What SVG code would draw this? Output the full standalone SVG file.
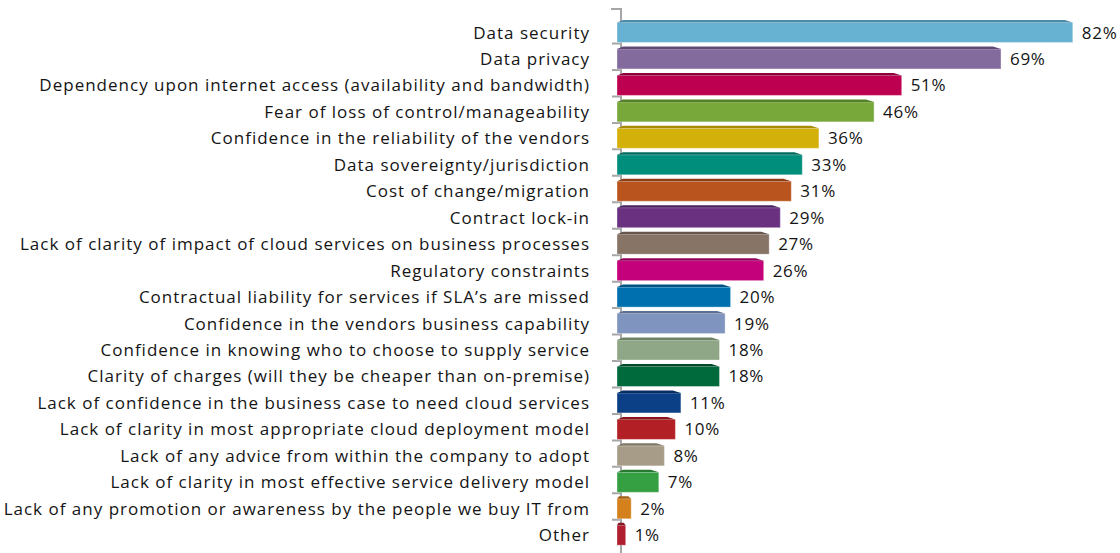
<svg xmlns="http://www.w3.org/2000/svg" width="1120" height="553" viewBox="0 0 1120 553">
<style>
.lbl{font-family:"Open Sans","Liberation Sans",sans-serif;font-size:17px;fill:#141414;text-anchor:end;letter-spacing:1px}
.val{font-family:"Open Sans","Liberation Sans",sans-serif;font-size:17px;fill:#141414;letter-spacing:0.7px}
.body{stroke:#ffffff;stroke-opacity:0.35;stroke-width:1}
.axis{stroke:#a6a6a6;stroke-width:2;fill:none}
</style>
<rect width="1120" height="553" fill="#ffffff"/>
<g id="axis">
<path class="axis" d="M611,9H621V553"/>
<path class="axis" d="M612,43.5H621M612,69.96H621M612,96.42H621M612,122.88H621M612,149.34H621M612,175.8H621M612,202.26H621M612,228.72H621M612,255.18H621M612,281.64H621M612,308.1H621M612,334.56H621M612,361.02H621M612,387.48H621M612,413.94H621M612,440.4H621M612,466.86H621M612,493.32H621M612,519.78H621"/>
</g>
<g id="bar-1" transform="translate(0,20)">
<rect class="body" x="617" y="2.5" width="455.8" height="20" fill="#67B1D3"/>
<polygon points="623,0 1064.8,0 1072.8,2.5 617,2.5" fill="#4B8AA8"/>
<text class="lbl" x="590" y="18.5">Data security</text>
<text class="val" x="1081.8" y="18.5">82%</text>
</g>
<g id="bar-2" transform="translate(0,46.46)">
<rect class="body" x="617" y="2.5" width="384" height="20" fill="#836B9E"/>
<polygon points="623,0 993,0 1001,2.5 617,2.5" fill="#5E4A75"/>
<text class="lbl" x="590" y="18.5">Data privacy</text>
<text class="val" x="1010" y="18.5">69%</text>
</g>
<g id="bar-3" transform="translate(0,72.92)">
<rect class="body" x="617" y="2.5" width="284.7" height="20" fill="#BE0050"/>
<polygon points="623,0 893.7,0 901.7,2.5 617,2.5" fill="#8E003B"/>
<text class="lbl" x="590" y="18.5">Dependency upon internet access (availability and bandwidth)</text>
<text class="val" x="910.7" y="18.5">51%</text>
</g>
<g id="bar-4" transform="translate(0,99.38)">
<rect class="body" x="617" y="2.5" width="257.1" height="20" fill="#78A83A"/>
<polygon points="623,0 866.1,0 874.1,2.5 617,2.5" fill="#55802A"/>
<text class="lbl" x="590" y="18.5">Fear of loss of control/manageability</text>
<text class="val" x="883.1" y="18.5">46%</text>
</g>
<g id="bar-5" transform="translate(0,125.84)">
<rect class="body" x="617" y="2.5" width="201.9" height="20" fill="#D4B10A"/>
<polygon points="623,0 810.9,0 818.9,2.5 617,2.5" fill="#A88A05"/>
<text class="lbl" x="590" y="18.5">Confidence in the reliability of the vendors</text>
<text class="val" x="827.9" y="18.5">36%</text>
</g>
<g id="bar-6" transform="translate(0,152.3)">
<rect class="body" x="617" y="2.5" width="185.3" height="20" fill="#008E7C"/>
<polygon points="623,0 794.3,0 802.3,2.5 617,2.5" fill="#006A5C"/>
<text class="lbl" x="590" y="18.5">Data sovereignty/jurisdiction</text>
<text class="val" x="811.3" y="18.5">33%</text>
</g>
<g id="bar-7" transform="translate(0,178.76)">
<rect class="body" x="617" y="2.5" width="174.3" height="20" fill="#B9541E"/>
<polygon points="623,0 783.3,0 791.3,2.5 617,2.5" fill="#8C3D14"/>
<text class="lbl" x="590" y="18.5">Cost of change/migration</text>
<text class="val" x="800.3" y="18.5">31%</text>
</g>
<g id="bar-8" transform="translate(0,205.22)">
<rect class="body" x="617" y="2.5" width="163.3" height="20" fill="#6A3180"/>
<polygon points="623,0 772.3,0 780.3,2.5 617,2.5" fill="#4A2060"/>
<text class="lbl" x="590" y="18.5">Contract lock-in</text>
<text class="val" x="789.3" y="18.5">29%</text>
</g>
<g id="bar-9" transform="translate(0,231.68)">
<rect class="body" x="617" y="2.5" width="152.2" height="20" fill="#887467"/>
<polygon points="623,0 761.2,0 769.2,2.5 617,2.5" fill="#64564C"/>
<text class="lbl" x="590" y="18.5">Lack of clarity of impact of cloud services on business processes</text>
<text class="val" x="778.2" y="18.5">27%</text>
</g>
<g id="bar-10" transform="translate(0,258.14)">
<rect class="body" x="617" y="2.5" width="146.7" height="20" fill="#C4007A"/>
<polygon points="623,0 755.7,0 763.7,2.5 617,2.5" fill="#94005C"/>
<text class="lbl" x="590" y="18.5">Regulatory constraints</text>
<text class="val" x="772.7" y="18.5">26%</text>
</g>
<g id="bar-11" transform="translate(0,284.6)">
<rect class="body" x="617" y="2.5" width="113.6" height="20" fill="#0071AE"/>
<polygon points="623,0 722.6,0 730.6,2.5 617,2.5" fill="#005284"/>
<text class="lbl" x="590" y="18.5">Contractual liability for services if SLA’s are missed</text>
<text class="val" x="739.6" y="18.5">20%</text>
</g>
<g id="bar-12" transform="translate(0,311.06)">
<rect class="body" x="617" y="2.5" width="108.1" height="20" fill="#7F94BE"/>
<polygon points="623,0 717.1,0 725.1,2.5 617,2.5" fill="#5D6F94"/>
<text class="lbl" x="590" y="18.5">Confidence in the vendors business capability</text>
<text class="val" x="734.1" y="18.5">19%</text>
</g>
<g id="bar-13" transform="translate(0,337.52)">
<rect class="body" x="617" y="2.5" width="102.5" height="20" fill="#8FA786"/>
<polygon points="623,0 711.5,0 719.5,2.5 617,2.5" fill="#6C8264"/>
<text class="lbl" x="590" y="18.5">Confidence in knowing who to choose to supply service</text>
<text class="val" x="728.5" y="18.5">18%</text>
</g>
<g id="bar-14" transform="translate(0,363.98)">
<rect class="body" x="617" y="2.5" width="102.5" height="20" fill="#006A3C"/>
<polygon points="623,0 711.5,0 719.5,2.5 617,2.5" fill="#004A2A"/>
<text class="lbl" x="590" y="18.5">Clarity of charges (will they be cheaper than on-premise)</text>
<text class="val" x="728.5" y="18.5">18%</text>
</g>
<g id="bar-15" transform="translate(0,390.44)">
<rect class="body" x="617" y="2.5" width="63.9" height="20" fill="#0B3F86"/>
<polygon points="623,0 672.9,0 680.9,2.5 617,2.5" fill="#082D62"/>
<text class="lbl" x="590" y="18.5">Lack of confidence in the business case to need cloud services</text>
<text class="val" x="689.9" y="18.5">11%</text>
</g>
<g id="bar-16" transform="translate(0,416.9)">
<rect class="body" x="617" y="2.5" width="58.4" height="20" fill="#B21F24"/>
<polygon points="623,0 667.4,0 675.4,2.5 617,2.5" fill="#86161A"/>
<text class="lbl" x="590" y="18.5">Lack of clarity in most appropriate cloud deployment model</text>
<text class="val" x="684.4" y="18.5">10%</text>
</g>
<g id="bar-17" transform="translate(0,443.36)">
<rect class="body" x="617" y="2.5" width="47.4" height="20" fill="#A69C87"/>
<polygon points="623,0 656.4,0 664.4,2.5 617,2.5" fill="#7F7766"/>
<text class="lbl" x="590" y="18.5">Lack of any advice from within the company to adopt</text>
<text class="val" x="673.4" y="18.5">8%</text>
</g>
<g id="bar-18" transform="translate(0,469.82)">
<rect class="body" x="617" y="2.5" width="41.8" height="20" fill="#34A042"/>
<polygon points="623,0 650.8,0 658.8,2.5 617,2.5" fill="#257A30"/>
<text class="lbl" x="590" y="18.5">Lack of clarity in most effective service delivery model</text>
<text class="val" x="667.8" y="18.5">7%</text>
</g>
<g id="bar-19" transform="translate(0,496.28)">
<rect class="body" x="617" y="2.5" width="14.2" height="20" fill="#D4801C"/>
<polygon points="619,0 628.2,0 631.2,2.5 617,2.5" fill="#A56112"/>
<text class="lbl" x="590" y="18.5">Lack of any promotion or awareness by the people we buy IT from</text>
<text class="val" x="640.2" y="18.5">2%</text>
</g>
<g id="bar-20" transform="translate(0,522.74)">
<rect class="body" x="617" y="2.5" width="8.7" height="20" fill="#B01E30"/>
<polygon points="618.5,0 623.7,0 625.7,2.5 617,2.5" fill="#851622"/>
<text class="lbl" x="590" y="18.5">Other</text>
<text class="val" x="634.7" y="18.5">1%</text>
</g>
</svg>
